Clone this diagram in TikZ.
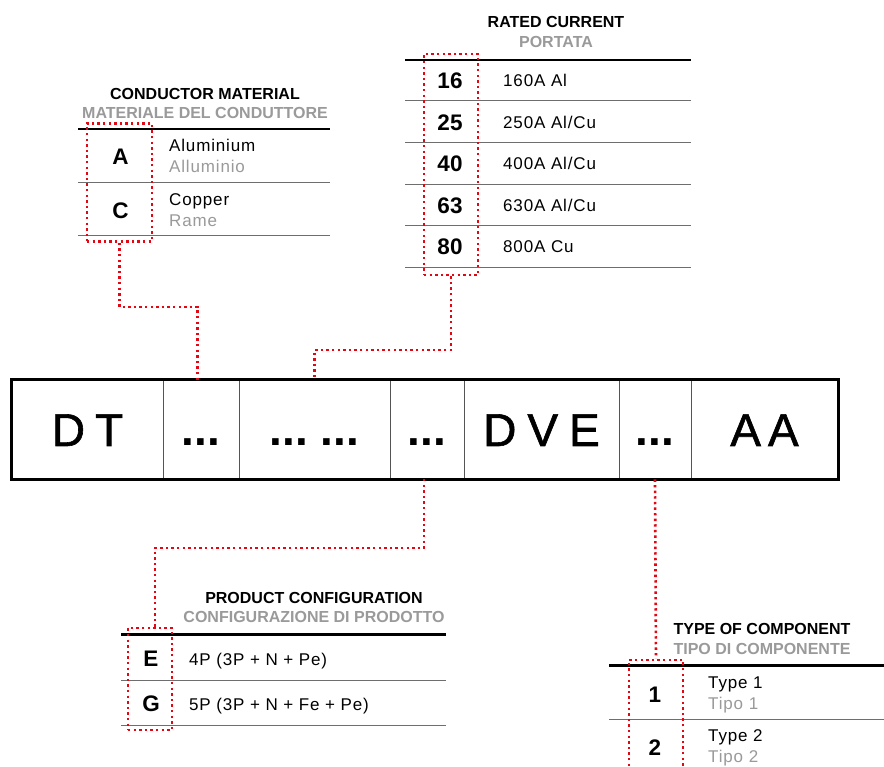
\documentclass[tikz,border=0pt]{standalone}
\usepackage{fontspec}
\setmainfont{Liberation Sans}
\newfontfamily\bodyf[LetterSpace=5]{Liberation Sans}
\newfontfamily\barf[FakeBold=1.3]{Liberation Sans}
\definecolor{dotred}{HTML}{E30613}
\definecolor{txtgray}{HTML}{9A9A9A}
\definecolor{rulegray}{HTML}{6E6E6E}
\definecolor{divgray}{HTML}{555555}
\tikzset{
  hdr/.style={line width=2.2pt, draw=black},
  rowl/.style={line width=1pt, draw=rulegray},
  reddot/.style={draw=dotred, line width=2.6pt, dash pattern=on 2.4pt off 3.2pt},
  redbox/.style={reddot, rectangle, inner sep=0pt, fill=none},
  ttl/.style={font=\fontsize{16}{18}\selectfont\bfseries, anchor=base, inner sep=0pt},
  ttlg/.style={ttl, text=txtgray},
  keyl/.style={font=\fontsize{22.5}{24}\selectfont\bfseries, anchor=base, inner sep=0pt},
  bodyt/.style={font=\bodyf\fontsize{17}{19}\selectfont, anchor=base west, inner sep=0pt},
  bodyg/.style={bodyt, text=txtgray},
  cell/.style={rectangle, draw=divgray, line width=0.9pt, minimum height=99pt, inner sep=0pt,
    text height=33pt, text depth=0pt, font=\barf\fontsize{46}{48}\selectfont},
  dotsf/.style={font=\fontsize{46}{48}\selectfont\bfseries}
}
\begin{document}
\begin{tikzpicture}[x=1pt,y=-1pt]
\clip (0,0) rectangle (884,767);
\useasboundingbox (0,0) rectangle (884,767);
\fill[white] (0,0) rectangle (884,767);

% ---------- main code bar ----------
\node[cell, minimum width=151pt] (c1) at (87.5,429.5) {D\hspace{10pt}T\hspace{8pt}};
\node[cell, minimum width=76pt, dotsf] (c2) at (201,429.5) {...};
\node[cell, minimum width=151pt, dotsf] (c3) at (314.5,429.5) {...\hspace{13pt}...};
\node[cell, minimum width=74pt, dotsf] (c4) at (427,429.5) {...};
\node[cell, minimum width=155pt] (c5) at (541.5,429.5) {D\hspace{11pt}V\hspace{11pt}E};
\node[cell, minimum width=72pt, dotsf] (c6) at (655,429.5) {...};
\node[cell, minimum width=147pt] (c7) at (764.5,429.5) {A\hspace{7pt}A\hspace{6pt}};
\draw[line width=2.5pt] (c1.north west) rectangle (c7.south east);

% ---------- conductor material ----------
\node[ttl] (t1) at (205,99.5) {CONDUCTOR MATERIAL};
\node[ttlg] (t1g) at (205,119) {MATERIALE DEL CONDUTTORE};
\coordinate (h1l) at (78,129); \coordinate (h1r) at (330,129);
\draw[hdr] (h1l) -- (h1r);
\coordinate (r1l) at (78,183); \coordinate (r1r) at (330,183);
\draw[rowl] (r1l) -- (r1r);
\coordinate (b1l) at (78,236); \coordinate (b1r) at (330,236);
\draw[rowl] (b1l) -- (b1r);
\node[keyl] (kA) at (120.5,165) {A};
\node[keyl] (kC) at (120.5,218.5) {C};
\node[bodyt] (tA1) at (169,152) {Aluminium};
\node[bodyg] (tA2) at (169,173) {Alluminio};
\node[bodyt] (tC1) at (169,205.5) {Copper};
\node[bodyg] (tC2) at (169,227) {Rame};
\node[redbox, minimum width=65pt, minimum height=118pt] (rb1) at (119.5,182.5) {};

% ---------- rated current ----------
\node[ttl] (t2) at (556,28) {RATED CURRENT};
\node[ttlg] (t2g) at (556,48) {PORTATA};
\coordinate (h2l) at (405,60); \coordinate (h2r) at (691,60);
\draw[hdr] (h2l) -- (h2r);
\foreach \yy/\nm in {101/a,143/b,184.5/c,226/d,268/e}{
  \coordinate (r2l\nm) at (405,\yy); \coordinate (r2r\nm) at (691,\yy);
  \draw[rowl] (r2l\nm) -- (r2r\nm);
}
\node[keyl] (k16) at (450,89) {16};
\node[keyl] (k25) at (450,130.5) {25};
\node[keyl] (k40) at (450,172) {40};
\node[keyl] (k63) at (450,213.5) {63};
\node[keyl] (k80) at (450,255) {80};
\node[bodyt] (v16) at (503,87) {160A Al};
\node[bodyt] (v25) at (503,128.5) {250A Al/Cu};
\node[bodyt] (v40) at (503,170) {400A Al/Cu};
\node[bodyt] (v63) at (503,211.5) {630A Al/Cu};
\node[bodyt] (v80) at (503,253) {800A Cu};
\node[redbox, minimum width=54pt, minimum height=221pt] (rb2) at (451,164.5) {};

% ---------- product configuration ----------
\node[ttl] (t3) at (314,603.5) {PRODUCT CONFIGURATION};
\node[ttlg] (t3g) at (314,622) {CONFIGURAZIONE DI PRODOTTO};
\coordinate (h3l) at (121,634.5); \coordinate (h3r) at (446,634.5);
\draw[hdr] (h3l) -- (h3r);
\coordinate (r3l) at (121,680); \coordinate (r3r) at (446,680);
\draw[rowl] (r3l) -- (r3r);
\coordinate (b3l) at (121,725); \coordinate (b3r) at (446,725);
\draw[rowl] (b3l) -- (b3r);
\node[keyl] (kE) at (151,666) {E};
\node[keyl] (kG) at (151,711) {G};
\node[bodyt] (vE) at (189,665) {4P (3P + N + Pe)};
\node[bodyt] (vG) at (189,710) {5P (3P + N + Fe + Pe)};
\node[redbox, minimum width=44pt, minimum height=102pt] (rb3) at (150,679) {};

% ---------- type of component ----------
\node[ttl] (t4) at (762,634) {TYPE OF COMPONENT};
\node[ttlg] (t4g) at (762,654) {TIPO DI COMPONENTE};
\coordinate (h4l) at (609,665.5); \coordinate (h4r) at (884,665.5);
\draw[hdr] (h4l) -- (h4r);
\coordinate (r4l) at (609,719); \coordinate (r4r) at (884,719);
\draw[rowl] (r4l) -- (r4r);
\node[keyl] (k1) at (655,702.5) {1};
\node[keyl] (k2) at (655,755) {2};
\node[bodyt] (vT1) at (708,688) {Type 1};
\node[bodyg] (vT1g) at (708,709) {Tipo 1};
\node[bodyt] (vT2) at (708,741) {Type 2};
\node[bodyg] (vT2g) at (708,762) {Tipo 2};
\node[redbox, minimum width=54pt, minimum height=130pt] (rb4) at (656,725) {};

% ---------- connectors ----------
\coordinate (a2) at (197.5,380);
\draw[reddot] (rb1.south) |- (a2 |- 0,307) -- (a2);
\draw[reddot] (rb2.south) |- (c3.north |- 0,350) -- (c3.north);
\coordinate (a4) at (424,479);
\coordinate (p3) at (155,628);
\draw[reddot] (a4) -- (a4 |- 0,548) -| (p3);
\draw[reddot] (c6.south) -- (rb4.north);
\end{tikzpicture}
\end{document}
